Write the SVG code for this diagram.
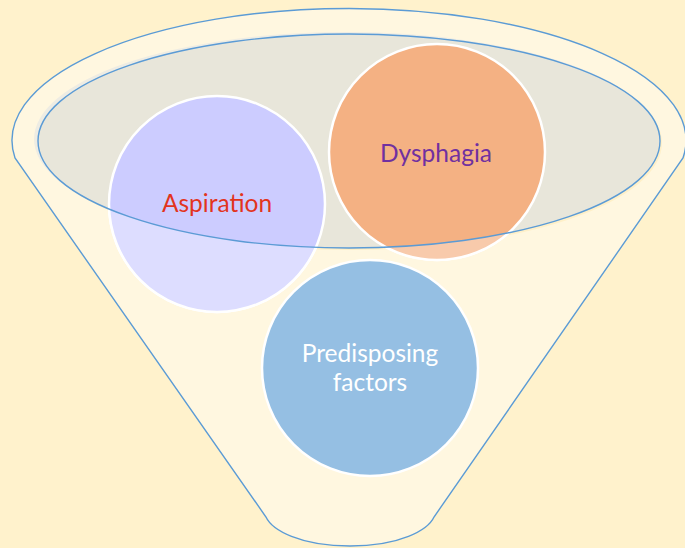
<svg xmlns="http://www.w3.org/2000/svg" width="685" height="548" viewBox="0 0 685 548">
<defs>
<style>
.outline{fill:none;stroke:#5B9BD5;stroke-width:1.4}
.circ{stroke:#FFFFFF;stroke-width:2.5}
.lbl{font-family:Lato,"Open Sans","Liberation Sans",sans-serif;font-size:24.5px;text-anchor:middle}
</style>
<path id="funnelPath" d="M 15,158 A 337 132 0 1 1 683,158 L 434,517 C 428,530 400,546 350,546 C 300,546 272,530 266,517 Z"/>
<clipPath id="frontClip">
<path clip-rule="evenodd" d="M 15,158 A 337 132 0 1 1 683,158 L 434,517 C 428,530 400,546 350,546 C 300,546 272,530 266,517 Z M 38,141 A 311 107 0 1 0 660,141 A 311 107 0 1 0 38,141 Z"/>
</clipPath>
</defs>
<rect width="685" height="548" fill="#FFF2CC"/>
<g id="funnel">
<use href="#funnelPath" fill="#FFF7E0"/>
<ellipse cx="346" cy="139" rx="312" ry="107" fill="#EEECE3"/>
<ellipse cx="351" cy="143" rx="311" ry="107" fill="#FFF0C8"/>
<ellipse cx="349" cy="141" rx="311" ry="107" fill="#E8E6DA"/>
</g>
<g id="aspiration">
<circle class="circ" cx="217" cy="204" r="108" fill="#CCCCFF"/>
<circle class="circ" cx="217" cy="204" r="108" fill="#DDDDFF" clip-path="url(#frontClip)"/>
</g>
<g id="dysphagia">
<circle class="circ" cx="437" cy="152" r="108" fill="#F4B183"/>
<circle class="circ" cx="437" cy="152" r="108" fill="#F8CAAB" clip-path="url(#frontClip)"/>
</g>
<g id="funnel-front">
<use href="#funnelPath" class="outline"/>
<ellipse class="outline" cx="349" cy="141" rx="311" ry="107"/>
</g>
<g id="predisposing">
<circle class="circ" cx="370" cy="368" r="108" fill="#95BFE3"/>
</g>
<g id="labels">
<text class="lbl" x="217" y="212" fill="#E2341D">Aspiration</text>
<text class="lbl" x="436" y="162" fill="#7030A0">Dysphagia</text>
<text class="lbl" x="370" y="362" fill="#FFFFFF">Predisposing</text>
<text class="lbl" x="370" y="391" fill="#FFFFFF">factors</text>
</g>
</svg>
